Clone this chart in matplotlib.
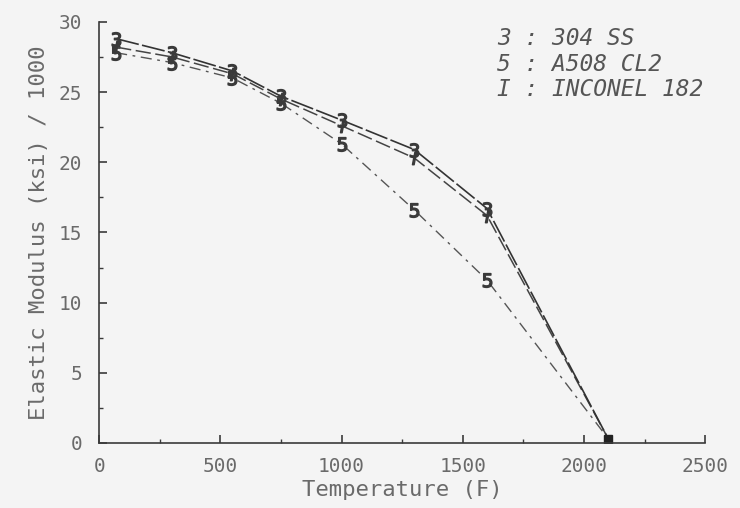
import matplotlib
matplotlib.use("Agg")
import matplotlib.pyplot as plt
from matplotlib.ticker import MultipleLocator

# temperatures (F)
temps = [70, 300, 550, 750, 1000, 1300, 1600, 2100]

# elastic modulus (ksi)/1000
ss304 = [28.8, 27.8, 26.5, 24.7, 23.0, 20.9, 16.7, 0.3]
inconel182 = [28.2, 27.5, 26.3, 24.5, 22.6, 20.3, 16.2, 0.3]
a508 = [27.8, 27.1, 26.0, 24.2, 21.3, 16.6, 11.6, 0.3]

legend_lines = ["3 : 304 SS", "5 : A508 CL2", "I : INCONEL 182"]

bg = "#f4f4f4"
ink = "#3a3a3a"
txt = "#6a6a6a"
mono = "DejaVu Sans Mono"

fig = plt.figure(figsize=(7.4, 5.08), dpi=100, facecolor=bg)
ax = fig.add_axes([0.134, 0.128, 0.819, 0.829], facecolor=bg)

n = len(temps) - 1
ax.plot(temps, a508, color="#555555", lw=1.0, ls=(0, (8, 4, 2, 4)),
        marker="$5$", ms=10, mec=ink, mfc=ink, markevery=range(n))
ax.plot(temps, inconel182, color="#444444", lw=1.1, ls=(0, (10, 3)),
        marker="$I$", ms=9, mec=ink, mfc=ink, markevery=range(n))
ax.plot(temps, ss304, color="#333333", lw=1.2, ls=(0, (14, 2)),
        marker="$3$", ms=10, mec=ink, mfc=ink, markevery=range(n))
# all three curves end in one filled blob
ax.plot(temps[-1:], ss304[-1:], "s", color="#222222", ms=6)

ax.set_xlim(0, 2500)
ax.set_ylim(0, 30)
ax.xaxis.set_major_locator(MultipleLocator(500))
ax.xaxis.set_minor_locator(MultipleLocator(250))
ax.yaxis.set_major_locator(MultipleLocator(5))
ax.yaxis.set_minor_locator(MultipleLocator(2.5))

for s in ["top", "right"]:
    ax.spines[s].set_visible(False)
for s in ["left", "bottom"]:
    ax.spines[s].set_color(ink)
    ax.spines[s].set_linewidth(1.2)

ax.tick_params(which="major", direction="in", length=6, width=1.2,
               color=ink, labelcolor=txt, labelsize=14)
ax.tick_params(axis="y", which="major", pad=12)
ax.tick_params(axis="x", which="major", pad=10)
ax.tick_params(which="minor", direction="in", length=3, width=1.0, color=ink)
for lab in ax.get_xticklabels() + ax.get_yticklabels():
    lab.set_family(mono)

ax.set_xlabel("Temperature (F)", color=txt, fontsize=16, family=mono, labelpad=3)
ax.set_ylabel("Elastic Modulus (ksi) / 1000", color=txt, fontsize=16,
              family=mono, labelpad=7)

for i, line in enumerate(legend_lines):
    fig.text(0.672, 0.925 - i * 0.051, line, color="#555555", fontsize=16.5,
             family=mono, style="italic", va="center", ha="left")

fig.savefig("out.png", dpi=100, facecolor=bg)
